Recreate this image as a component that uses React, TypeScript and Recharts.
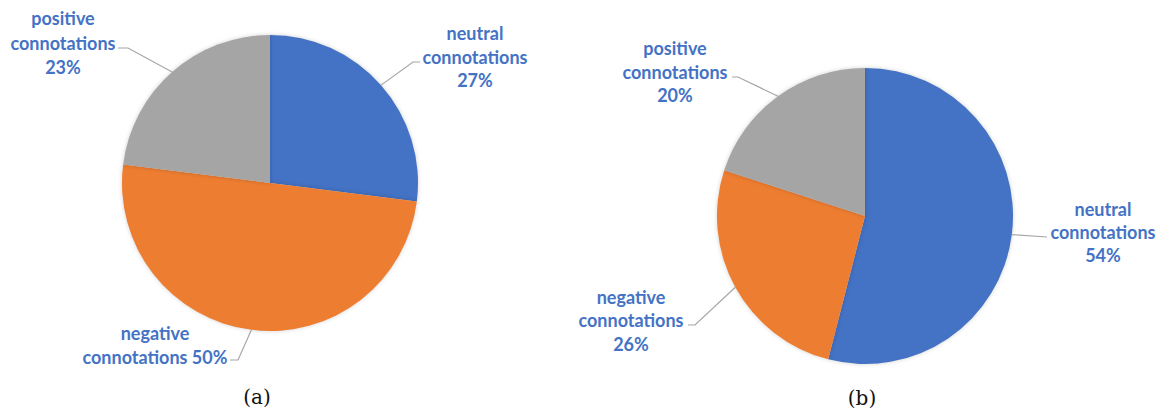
import React from 'react';
import { PieChart, Pie, Cell } from 'recharts';

// Categories and shares (%) for the two pies
const categories = ['neutral connotations', 'negative connotations', 'positive connotations'];
const valuesA = [27, 50, 23];
const valuesB = [54, 26, 20];
const captions = ['(a)', '(b)'];

const COLORS = ['#4472C4', '#ED7D31', '#A5A5A5'];
const LABEL_COLOR = '#4472C4';
const LEADER_COLOR = '#A6A6A6';
const RADIAN = Math.PI / 180;

// Label layout relative to each pie's centre: elbow, line end, text x, line y's
type LabelLayout = { elbow: [number, number]; end: [number, number]; tx: number; ty: number[]; lines: (pct: string) => string[] };

const layoutA: LabelLayout[] = [
  { elbow: [143, -121], end: [150, -121], tx: 205, ty: [-150, -126, -103], lines: (p) => ['neutral', 'connotations', p] },
  { elbow: [-32, 177], end: [-40, 177], tx: -115, ty: [150, 174], lines: (p) => ['negative', `connotations ${p}`] },
  { elbow: [-142, -135], end: [-152, -135], tx: -207, ty: [-165, -140, -116], lines: (p) => ['positive', 'connotations', p] },
];

const layoutB: LabelLayout[] = [
  { elbow: [182, 21], end: [182, 21], tx: 238, ty: [-7, 16, 39], lines: (p) => ['neutral', 'connotations', p] },
  { elbow: [-170, 109], end: [-177, 109], tx: -234, ty: [81, 104, 128], lines: (p) => ['negative', 'connotations', p] },
  { elbow: [-127, -139], end: [-133, -139], tx: -190, ty: [-168, -144, -121], lines: (p) => ['positive', 'connotations', p] },
];

const dataA = categories.map((name, i) => ({ name, value: valuesA[i] }));
const dataB = categories.map((name, i) => ({ name, value: valuesB[i] }));

const makeLabel = (layout: LabelLayout[]) => (props: any) => {
  const { cx, cy, midAngle, outerRadius, percent, index } = props;
  const l = layout[index];
  const sx = cx + outerRadius * Math.cos(-midAngle * RADIAN);
  const sy = cy + outerRadius * Math.sin(-midAngle * RADIAN);
  const pct = `${Math.round(percent * 100)}%`;
  const lines = l.lines(pct);
  return (
    <g key={`lbl-${index}`}>
      <polyline
        points={`${sx},${sy} ${cx + l.elbow[0]},${cy + l.elbow[1]} ${cx + l.end[0]},${cy + l.end[1]}`}
        fill="none"
        stroke={LEADER_COLOR}
        strokeWidth={1.2}
      />
      <text
        textAnchor="middle"
        fill={LABEL_COLOR}
        style={{ fontFamily: 'Lato, sans-serif', fontWeight: 700, fontSize: 18 }}
      >
        {lines.map((t, k) => (
          <tspan key={k} x={cx + l.tx} y={cy + l.ty[k]} dominantBaseline="central">
            {t}
          </tspan>
        ))}
      </text>
    </g>
  );
};

export default function App() {
  return (
    <div style={{ position: 'absolute', left: 0, top: 0, width: 1165, height: 411, background: '#fff' }}>
      <style>{`.recharts-pie-sector { filter: drop-shadow(0 0 2px rgba(0,0,0,0.18)); }`}</style>
      <PieChart width={1165} height={411} margin={{ top: 0, right: 0, bottom: 0, left: 0 }}>
        <Pie
          data={dataA}
          dataKey="value"
          nameKey="name"
          cx={270}
          cy={183}
          outerRadius={148}
          startAngle={90}
          endAngle={-270}
          stroke="none"
          labelLine={false}
          label={makeLabel(layoutA)}
          isAnimationActive={false}
        >
          {dataA.map((d, i) => (
            <Cell key={`a-${i}`} fill={COLORS[i]} />
          ))}
        </Pie>
        <Pie
          data={dataB}
          dataKey="value"
          nameKey="name"
          cx={865}
          cy={216}
          outerRadius={148}
          startAngle={90}
          endAngle={-270}
          stroke="none"
          labelLine={false}
          label={makeLabel(layoutB)}
          isAnimationActive={false}
        >
          {dataB.map((d, i) => (
            <Cell key={`b-${i}`} fill={COLORS[i]} />
          ))}
        </Pie>
        <text x={257} y={397} textAnchor="middle" dominantBaseline="central" fill="#111" style={{ fontFamily: '"DejaVu Serif", serif', fontSize: 20 }}>
          {captions[0]}
        </text>
        <text x={862} y={398} textAnchor="middle" dominantBaseline="central" fill="#111" style={{ fontFamily: '"DejaVu Serif", serif', fontSize: 20 }}>
          {captions[1]}
        </text>
      </PieChart>
    </div>
  );
}
